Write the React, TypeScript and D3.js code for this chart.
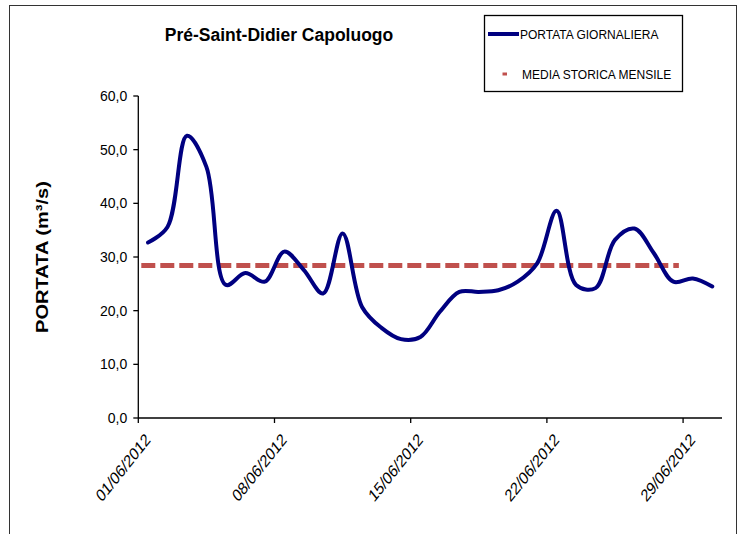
import React from "react";
import * as d3 from "d3";

const days: string[] = Array.from({ length: 30 }, (_, i) => `${String(i + 1).padStart(2, "0")}/06/2012`);
const portata: number[] = [
  32.7, 35.6, 52.6, 46.8, 24.8, 27.0, 25.4, 31.0, 27.6, 23.2,
  34.4, 20.7, 16.8, 14.7, 15.1, 19.8, 23.5, 23.5, 23.8, 25.4,
  28.8, 38.6, 24.8, 24.2, 33.2, 35.3, 30.7, 25.4, 26.0, 24.5,
];
const mediaStorica: number[] = Array.from({ length: 28 }, () => 28.4);
const yTicks: number[] = [0, 10, 20, 30, 40, 50, 60];
const xTickDays: string[] = ["01/06/2012", "08/06/2012", "15/06/2012", "22/06/2012", "29/06/2012"];
const title = "Pré-Saint-Didier Capoluogo";
const yLabel = "PORTATA (m³/s)";
const legendLabels = ["PORTATA GIORNALIERA", "MEDIA STORICA MENSILE"];

const W = 742;
const H = 534;
const plot = { left: 138.3, right: 722, top: 96, bottom: 418 };

export default function App() {
  const x = d3.scaleBand<string>().domain(days).range([plot.left, plot.right]).padding(0);
  const cx = (d: string) => (x(d) as number) + x.bandwidth() / 2;
  const y = d3.scaleLinear().domain([0, 60]).range([plot.bottom, plot.top]);

  const line = d3
    .line<number>()
    .x((_, i) => cx(days[i]))
    .y((v) => y(v))
    .curve(d3.curveCatmullRom.alpha(0.5));

  const meanX1 = (x(days[0]) as number) + 3;
  const meanX2 = cx(days[mediaStorica.length - 1]) + 5.5;
  const meanY = y(mediaStorica[0]);

  const fmt = (v: number) => v.toFixed(1).replace(".", ",");
  const font = "'Liberation Sans', Arial, sans-serif";

  return (
    <svg width={W} height={H} style={{ position: "absolute", left: 0, top: 0, background: "#fff" }} fontFamily={font}>
      <rect x={0} y={0} width={W} height={H} fill="#fff" />
      <rect x={9.5} y={5.5} width={727} height={560} fill="none" stroke="#333" strokeWidth={1} />

      <text x={279} y={41} textAnchor="middle" fontSize={17.5} fontWeight="bold" fill="#000">
        {title}
      </text>

      {/* y axis label */}
      <text
        transform={`translate(48,${(plot.top + plot.bottom) / 2}) scale(1,1.18) rotate(-90)`}
        textAnchor="middle"
        fontSize={17}
        fontWeight="bold"
        fill="#000"
      >
        {yLabel}
      </text>

      {/* y axis */}
      <line x1={plot.left} x2={plot.left} y1={plot.top} y2={plot.bottom} stroke="#000" strokeWidth={1.3} />
      {yTicks.map((t) => (
        <g key={t}>
          <line x1={plot.left - 5} x2={plot.left} y1={y(t)} y2={y(t)} stroke="#000" strokeWidth={1.3} />
          <text x={plot.left - 11} y={y(t) + 5} textAnchor="end" fontSize={14} fill="#000">
            {fmt(t)}
          </text>
        </g>
      ))}

      {/* x axis */}
      <line x1={plot.left} x2={plot.right} y1={plot.bottom} y2={plot.bottom} stroke="#000" strokeWidth={1.3} />
      {xTickDays.map((d) => {
        const tx = x(d) as number;
        return (
          <g key={d}>
            <line x1={tx} x2={tx} y1={plot.bottom} y2={plot.bottom + 5} stroke="#000" strokeWidth={1.3} />
            <text
              transform={`translate(${tx + 13},${plot.bottom + 23}) scale(1,1.25) rotate(-45)`}
              textAnchor="end"
              fontSize={14}
              fill="#000"
            >
              {d}
            </text>
          </g>
        );
      })}

      {/* mean line */}
      <line
        x1={meanX1}
        x2={meanX2}
        y1={meanY}
        y2={meanY}
        stroke="#C0504D"
        strokeWidth={5}
        strokeDasharray="14,5"
      />

      {/* daily flow */}
      <path d={line(portata) || ""} fill="none" stroke="#000080" strokeWidth={4} strokeLinejoin="round" strokeLinecap="round" />

      {/* legend */}
      <rect x={484.5} y={15.5} width={198} height={76} fill="#fff" stroke="#000" strokeWidth={1.3} />
      <line x1={488} x2={519} y1={34} y2={34} stroke="#000080" strokeWidth={4} />
      <text x={520} y={38.5} fontSize={12} fill="#000">
        {legendLabels[0]}
      </text>
      <line x1={502.5} x2={507} y1={74} y2={74} stroke="#C0504D" strokeWidth={3} />
      <text x={522} y={78.5} fontSize={12} fill="#000">
        {legendLabels[1]}
      </text>
    </svg>
  );
}
